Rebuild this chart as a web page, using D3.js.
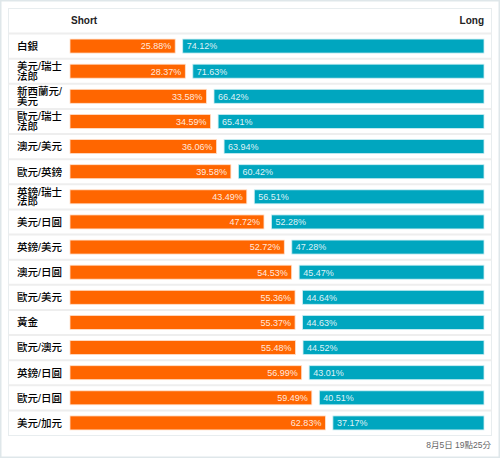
<!DOCTYPE html>
<html><head><meta charset="utf-8">
<script src="https://cdn.jsdelivr.net/npm/d3@7"></script>
<style>
html,body{margin:0;padding:0;background:#fff;}
svg{display:block;font-family:"Liberation Sans",Arial,"Noto Sans CJK TC",sans-serif;}
</style></head>
<body>
<script>
const categories = ["白銀","美元/瑞士法郎","新西蘭元/美元","歐元/瑞士法郎","澳元/美元","歐元/英鎊","英鎊/瑞士法郎","美元/日圓","英鎊/美元","澳元/日圓","歐元/美元","黃金","歐元/澳元","英鎊/日圓","歐元/日圓","美元/加元"];
const shortValues = [25.88,28.37,33.58,34.59,36.06,39.58,43.49,47.72,52.72,54.53,55.36,55.37,55.48,56.99,59.49,62.83];
const longValues = [74.12,71.63,66.42,65.41,63.94,60.42,56.51,52.28,47.28,45.47,44.64,44.63,44.52,43.01,40.51,37.17];
const seriesNames = ["Short","Long"];
const footerText = "8月5日 19點25分";

const W = 500, H = 458;
const svg = d3.select("body").append("svg").attr("width", W).attr("height", H);

svg.append("rect").attr("x",0.75).attr("y",0.75).attr("width",W-1.5).attr("height",H-1.5)
  .attr("fill","#fff").attr("stroke","#dfe7ea").attr("stroke-width",1.5);

const tableL = 8.5, tableR = 491.5, tableT = 8.5, headerH = 25, tableB = 435.5;
const barL = 70, barR = 484, gap = 7.5;
const rowTop = tableT + headerH;

const y = d3.scaleBand().domain(categories).range([rowTop, tableB]).paddingInner(0).paddingOuter(0);
const x = d3.scaleLinear().domain([0,100]).range([0, barR - barL - gap]);

svg.append("rect").attr("x",tableL).attr("y",tableT).attr("width",tableR-tableL).attr("height",tableB-tableT)
  .attr("fill","#fff").attr("stroke","#e8edef").attr("stroke-width",1);

svg.append("g").selectAll("line").data(categories).join("line")
  .attr("x1",tableL).attr("x2",tableR)
  .attr("y1",d=>y(d)).attr("y2",d=>y(d))
  .attr("stroke","#eeeeee").attr("stroke-width",2);

svg.append("text").attr("x",barL+1).attr("y",tableT+15.5).attr("font-size",10).attr("font-weight","bold")
  .attr("fill","#222").text(seriesNames[0]);
svg.append("text").attr("x",barR).attr("y",tableT+15.5).attr("font-size",10).attr("font-weight","bold")
  .attr("text-anchor","end").attr("fill","#222").text(seriesNames[1]);

const bh = 14;
const rows = svg.append("g").selectAll("g").data(categories).join("g")
  .attr("transform", d => `translate(0,${y(d) + y.bandwidth()/2})`);

rows.append("text").attr("x",17).attr("font-size",10.5).attr("font-weight",500).attr("fill","#000")
  .each(function(d){
    const t = d3.select(this);
    const maxW = 50;
    const lines = [];
    let cur = "";
    const probe = t.append("tspan");
    for (const ch of d) {
      probe.text(cur + ch);
      if (cur && probe.node().getComputedTextLength() > maxW) { lines.push(cur); cur = ch; }
      else cur += ch;
    }
    lines.push(cur);
    probe.remove();
    const lh = 9.6;
    const y0 = -(lines.length-1)*lh/2 + 3.8;
    lines.forEach((l,i)=>{
      t.append("tspan").attr("x",17).attr("y", y0 + i*lh).text(l);
    });
  });

rows.append("rect").attr("x",barL).attr("y",-bh/2)
  .attr("width",(d,i)=>x(shortValues[i])).attr("height",bh)
  .attr("fill","#ff6600").attr("stroke","#ffe0cc").attr("stroke-width",0.8);
rows.append("text").attr("x",(d,i)=>barL + x(shortValues[i]) - 4).attr("y",3.3)
  .attr("text-anchor","end").attr("font-size",9).attr("fill","#fff").attr("fill-opacity",0.88)
  .text((d,i)=>shortValues[i].toFixed(2)+"%");

rows.append("rect").attr("x",(d,i)=>barL + x(shortValues[i]) + gap).attr("y",-bh/2)
  .attr("width",(d,i)=>x(longValues[i])).attr("height",bh)
  .attr("fill","#00a6bf").attr("stroke","#cceef3").attr("stroke-width",0.8);
rows.append("text").attr("x",(d,i)=>barL + x(shortValues[i]) + gap + 4).attr("y",3.3)
  .attr("font-size",9).attr("fill","#fff").attr("fill-opacity",0.88)
  .text((d,i)=>longValues[i].toFixed(2)+"%");

svg.append("text").attr("x",491).attr("y",448).attr("text-anchor","end").attr("font-size",8.5)
  .attr("fill","#666").text(footerText);
</script>
</body></html>
